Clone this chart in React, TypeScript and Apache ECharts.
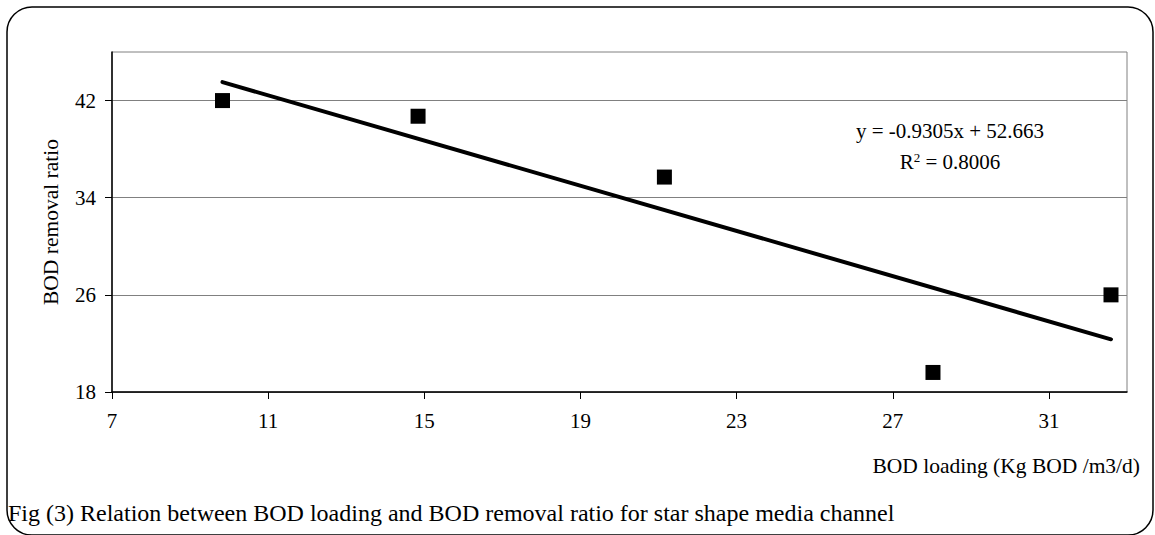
import React, { useEffect, useRef } from "react";
import * as echarts from "echarts";

const bodLoading = [9.83, 14.84, 21.15, 28.03, 32.59];
const bodRemoval = [42, 40.71, 35.7, 19.61, 26];
const trendX = [9.83, 32.59];
const trendY = [43.52, 22.34];
const xTicks = [7, 11, 15, 19, 23, 27, 31];
const yTicks = [18, 26, 34, 42];
const equationText = "y = -0.9305x + 52.663";
const r2Text = "0.8006";
const xAxisName = "BOD loading (Kg BOD /m3/d)";
const yAxisName = "BOD removal ratio";
const caption = "Fig (3) Relation between BOD loading and BOD removal ratio for star shape media channel";

const FONT = "'Liberation Serif', 'Times New Roman', serif";

export default function App() {
  const ref = useRef<HTMLDivElement>(null);
  useEffect(() => {
    if (!ref.current) return;
    const chart = echarts.init(ref.current, null, { renderer: "svg" });
    chart.setOption({
      animation: false,
      backgroundColor: "#ffffff",
      textStyle: { fontFamily: FONT, color: "#000" },
      grid: {
        left: 112,
        top: 52,
        right: 28,
        bottom: 143,
        show: true,
        borderColor: "#808080",
        borderWidth: 1,
      },
      xAxis: {
        type: "value",
        min: 7,
        max: 33,
        axisLine: { show: true, lineStyle: { color: "#000", width: 1.5 } },
        axisTick: { show: true, inside: false, length: 7, customValues: xTicks, lineStyle: { color: "#000" } },
        axisLabel: { customValues: xTicks, fontFamily: FONT, fontSize: 21, color: "#000", margin: 18 },
        splitLine: { show: false },
      },
      yAxis: {
        type: "value",
        min: 18,
        max: 46,
        name: yAxisName,
        nameLocation: "middle",
        nameGap: 50,
        nameTextStyle: { fontFamily: FONT, fontSize: 21.5, color: "#000" },
        axisLine: { show: true, lineStyle: { color: "#000", width: 1.5 } },
        axisTick: { show: true, inside: false, length: 7, customValues: yTicks, lineStyle: { color: "#000" } },
        axisLabel: { customValues: yTicks, fontFamily: FONT, fontSize: 21, color: "#000", margin: 16 },
        splitLine: { show: true, lineStyle: { color: "#808080", width: 1 } },
      },
      series: [
        {
          type: "line",
          data: trendX.map((x, i) => [x, trendY[i]]),
          showSymbol: false,
          lineStyle: { color: "#000", width: 4, cap: "round" },
          z: 2,
        },
        {
          type: "scatter",
          data: bodLoading.map((x, i) => [x, bodRemoval[i]]),
          symbol: "rect",
          symbolSize: 15,
          itemStyle: { color: "#000", opacity: 1 },
          z: 3,
        },
      ],
      graphic: [
        {
          type: "rect",
          shape: { x: 7, y: 7, width: 1146, height: 528, r: 25 },
          style: { fill: "none", stroke: "#000", lineWidth: 1.5 },
          silent: true,
          z: 0,
        },
        {
          type: "text",
          x: 950,
          y: 131,
          style: {
            text: equationText,
            font: `21px ${FONT}`,
            fill: "#000",
            textAlign: "center",
            textVerticalAlign: "middle",
          },
        },
        {
          type: "text",
          x: 950,
          y: 162,
          style: {
            text: "R{sup|2} = " + r2Text,
            font: `21px ${FONT}`,
            fill: "#000",
            textAlign: "center",
            textVerticalAlign: "middle",
            rich: {
              sup: { fontSize: 13, fontFamily: FONT, verticalAlign: "top", padding: [0, 0, 10, 0] },
            },
          },
        },
        {
          type: "text",
          x: 1140,
          y: 466,
          style: {
            text: xAxisName,
            font: `21.5px ${FONT}`,
            fill: "#000",
            textAlign: "right",
            textVerticalAlign: "middle",
          },
        },
        {
          type: "text",
          x: 8,
          y: 513,
          style: {
            text: caption,
            font: `24px ${FONT}`,
            fill: "#000",
            textAlign: "left",
            textVerticalAlign: "middle",
          },
        },
      ],
    });
    return () => chart.dispose();
  }, []);
  return (
    <div
      ref={ref}
      style={{ position: "fixed", left: 0, top: 0, width: 1155, height: 535 }}
    />
  );
}
